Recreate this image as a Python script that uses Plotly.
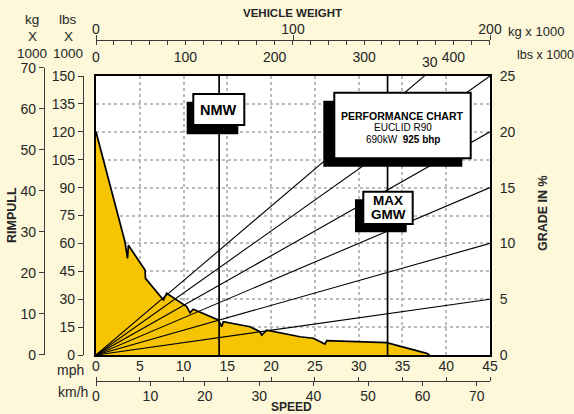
import plotly.graph_objects as go

# ---------------- data ----------------
speed_mph = [0, 3.3, 3.6, 3.7, 5.6, 5.65, 7.7, 8.07, 10.36, 10.74, 11.1, 13.97, 14.36,
             14.54, 17.59, 18.73, 18.93, 19.5, 23.3, 24.82, 26.15, 26.35, 33.2, 37.77, 38.1]
rimpull_klbs = [120, 61, 52, 59, 45.7, 41.2, 29.6, 33.2, 26.0, 22.7, 24.6, 18.8, 15.2,
                17.9, 15.2, 12.5, 10.75, 13.4, 9.8, 9.0, 5.9, 7.7, 6.6, 0.9, 0]
grade_pct = [5, 10, 15, 20, 25, 30]
weight_names = ["NMW", "MAX GMW"]
weight_kt = [62.5, 148.0]          # vehicle weight, kg x 1000

mph_ticks = [0, 5, 10, 15, 20, 25, 30, 35, 40, 45]
kmh_ticks = [0, 10, 20, 30, 40, 50, 60, 70]
lbs_ticks = [0, 15, 30, 45, 60, 75, 90, 105, 120, 135, 150]
kg_ticks = [0, 10, 20, 30, 40, 50, 60, 70]
grade_ticks = [0, 5, 10, 15, 20, 25]
wt_kg_ticks = [0, 100, 200]
wt_lbs_ticks = [0, 100, 200, 300, 400]
wt_lbs_minor = list(range(0, 441, 20))

KG_TO_LBS = 2.20462
MPH_TO_KMH = 1.609344
SPEED_MAX = 45
RIMPULL_MAX = 150
GRADE_MAX = 25
WEIGHT_MAX = 200

# ---------------- styling ----------------
W, H = 574, 414
BG = "#FCF8D9"
YELLOW = "#F6C400"
AX = "#3a3a3a"
TXT = "#262626"
GRID = "#BBBBBB"
FONT = "Liberation Sans, Arial, sans-serif"
NUM = 14


def fx(p):
    return p / W


def fy(p):
    return 1 - p / H


L, R, T, B = 96, 490, 76, 355

fig = go.Figure()

# rimpull area
fig.add_trace(go.Scatter(x=speed_mph, y=rimpull_klbs, mode="lines", fill="tozeroy",
                         fillcolor=YELLOW, line=dict(width=0), hoverinfo="skip"))
# grade lines
gx, gy = [], []
for g in grade_pct:
    gx += [0, SPEED_MAX, None]
    gy += [0, g * RIMPULL_MAX / GRADE_MAX, None]
fig.add_trace(go.Scatter(x=gx, y=gy, mode="lines", line=dict(color="black", width=1.1),
                         hoverinfo="skip"))
# rimpull outline
fig.add_trace(go.Scatter(x=speed_mph, y=rimpull_klbs, mode="lines",
                         line=dict(color="black", width=1.7), hoverinfo="skip"))
# weight lines (on the vehicle-weight axis)
wx, wy = [], []
for w in weight_kt:
    wx += [w, w, None]
    wy += [0, RIMPULL_MAX, None]
fig.add_trace(go.Scatter(x=wx, y=wy, xaxis="x2", yaxis="y", mode="lines",
                         line=dict(color="black", width=1.7), hoverinfo="skip"))


# invisible anchor traces so that every scale axis is rendered
def holder(xa, ya, xs, ys):
    fig.add_trace(go.Scatter(x=xs, y=ys, xaxis=xa, yaxis=ya, mode="markers",
                             marker=dict(opacity=0, size=1), hoverinfo="skip"))


holder("x", "y2", [0] * len(lbs_ticks), lbs_ticks)
holder("x6", "y3", [0] * len(kg_ticks), kg_ticks)
holder("x", "y4", [0] * len(grade_ticks), grade_ticks)
holder("x3", "y", wt_lbs_ticks, [0] * len(wt_lbs_ticks))
holder("x4", "y", mph_ticks, [0] * len(mph_ticks))
holder("x5", "y", kmh_ticks, [0] * len(kmh_ticks))

tickfont = dict(family=FONT, size=NUM, color=TXT)
common = dict(showgrid=False, zeroline=False, fixedrange=True, tickfont=tickfont,
              tickcolor=AX, linecolor=AX, linewidth=1.2, tickwidth=1.2)

layout = dict(
    width=W, height=H, margin=dict(l=0, r=0, t=0, b=0, autoexpand=False),
    paper_bgcolor=BG, plot_bgcolor=BG, showlegend=False, hovermode=False,
    font=dict(family=FONT, color=TXT),
    xaxis=dict(domain=[fx(L), fx(R)], range=[0, SPEED_MAX], showgrid=True,
               tickvals=mph_ticks[1:-1], gridcolor=GRID, griddash="dot", gridwidth=1.6,
               showticklabels=False, ticks="", showline=True, mirror=True,
               linecolor="black", linewidth=2, zeroline=False, fixedrange=True),
    yaxis=dict(domain=[fy(B), fy(T)], range=[0, RIMPULL_MAX], showgrid=True,
               tickvals=lbs_ticks[1:-1], gridcolor=GRID, griddash="dot", gridwidth=1.6,
               showticklabels=False, ticks="", showline=True, mirror=True,
               linecolor="black", linewidth=2, zeroline=False, fixedrange=True),
    # lbs rimpull scale
    yaxis2=dict(overlaying="y", anchor="free", position=fx(83), side="left",
                range=[0, RIMPULL_MAX], tickvals=lbs_ticks, ticks="outside", ticklen=5,
                showline=True, **common),
    # kg rimpull scale
    xaxis6=dict(domain=[fx(45), fx(45.5)], anchor="y3", visible=False, range=[0, 1],
                fixedrange=True),
    yaxis3=dict(domain=[fy(B), fy(B - 70 * KG_TO_LBS * (B - T) / RIMPULL_MAX)], anchor="x6",
                side="left", range=[0, 70], tickvals=kg_ticks, ticks="outside", ticklen=5,
                showline=True, **common),
    # grade scale
    yaxis4=dict(overlaying="y", anchor="x", side="right", range=[0, GRADE_MAX],
                tickvals=grade_ticks, ticks="outside", ticklen=6,
                showline=False, **{**common, "tickcolor": "rgba(0,0,0,0)"}),
    # vehicle weight kg (top)
    xaxis2=dict(overlaying="x", anchor="free", position=fy(40), side="top",
                range=[0, WEIGHT_MAX], tickvals=wt_kg_ticks, ticks="outside", ticklen=5,
                ticklabelstandoff=-5, showline=True, **common),
    # vehicle weight lbs
    xaxis3=dict(overlaying="x", anchor="free", position=fy(40), side="bottom",
                range=[0, WEIGHT_MAX * KG_TO_LBS], tickvals=wt_lbs_ticks, ticks="outside",
                ticklen=4, showline=False,
                minor=dict(tickvals=wt_lbs_minor, ticks="outside", ticklen=4, tickcolor=AX,
                           tickwidth=1.2),
                **common),
    # speed mph
    xaxis4=dict(overlaying="x", anchor="free", position=fy(381), side="top",
                range=[0, SPEED_MAX], tickvals=mph_ticks, ticks="outside", ticklen=4,
                showline=True, **common),
    # speed km/h
    xaxis5=dict(overlaying="x", anchor="free", position=fy(381), side="bottom",
                range=[0, SPEED_MAX * MPH_TO_KMH], tickvals=kmh_ticks, ticks="outside",
                ticklen=4, ticklabelstandoff=-2, showline=False, **common),
)
fig.update_layout(**layout)


def rect(x0, y0, x1, y1, fill, lw=0, layer="above"):
    return dict(type="rect", xref="paper", yref="paper", x0=fx(x0), x1=fx(x1),
                y0=fy(y1), y1=fy(y0), fillcolor=fill,
                line=dict(color="black", width=lw), layer=layer)


shapes = [dict(type="rect", xref="x", yref="y", x0=0, x1=SPEED_MAX, y0=0, y1=RIMPULL_MAX,
               fillcolor="white", line=dict(width=0), layer="below")]
# NMW box
shapes.append(rect(186.7, 101.7, 238.3, 134.3, "black"))
shapes.append(rect(193.3, 94, 244.3, 125, "white", 2))
# performance box
shapes.append(rect(323.3, 100.7, 462.3, 166.7, "black"))
shapes.append(rect(334.3, 92.7, 470.7, 158.3, "white", 2))
# MAX GMW box
shapes.append(rect(355, 199.3, 406.7, 232.3, "black"))
shapes.append(rect(363.3, 191.7, 412.7, 224, "white", 2))
fig.update_layout(shapes=shapes)


def ann(text, x, y, size=NUM, bold=False, angle=0, xanchor="center", color=TXT):
    return dict(text=("<b>%s</b>" % text) if bold else text, x=fx(x), y=fy(y),
                xref="paper", yref="paper", showarrow=False, textangle=angle,
                xanchor=xanchor, yanchor="middle",
                font=dict(family=FONT, size=size, color=color))


anns = [
    ann("VEHICLE WEIGHT", 292, 13, 11.5, True),
    ann("kg x 1000", 506, 31, 13, xanchor="left"),
    ann("lbs x 1000", 515, 55, 12.5, xanchor="left"),
    ann("kg", 32, 20, 13.5), ann("X", 32, 37, 13.5), ann("1000", 32, 53, 13.5),
    ann("lbs", 68, 20, 13.5), ann("X", 68, 37, 13.5), ann("1000", 68, 53, 13.5),
    ann("RIMPULL", 12, 215, 12.5, True, -90),
    ann("GRADE IN %", 543, 213, 12.5, True, -90),
    ann("mph", 70, 370, NUM),
    ann("km/h", 73, 392, NUM),
    ann("SPEED", 291, 407, 12, True),
    ann("NMW", 219, 110, 14.5, True, color="black"),
    ann("MAX", 388, 200.5, 13.5, True, color="black"),
    ann("GMW", 388, 214.5, 13.5, True, color="black"),
    ann("PERFORMANCE CHART", 402.5, 115.5, 10.5, True, color="black"),
    ann("EUCLID R90", 402.5, 127.5, 10, color="black"),
    ann("690kW&nbsp;&nbsp;<b>925 bhp</b>", 402.5, 139.5, 10, color="black"),
]
# label for the steepest grade line where it leaves the top of the chart
g_top = grade_pct[-1]
anns.append(dict(text=str(g_top), x=SPEED_MAX * GRADE_MAX / g_top, y=fy(62), xref="x",
                 yref="paper", xshift=6, showarrow=False, yanchor="middle",
                 font=dict(family=FONT, size=NUM, color=TXT)))
fig.update_layout(annotations=anns)

fig.write_html("out.html", config={"displayModeBar": False},
               post_script="document.body.style.margin='0';")
